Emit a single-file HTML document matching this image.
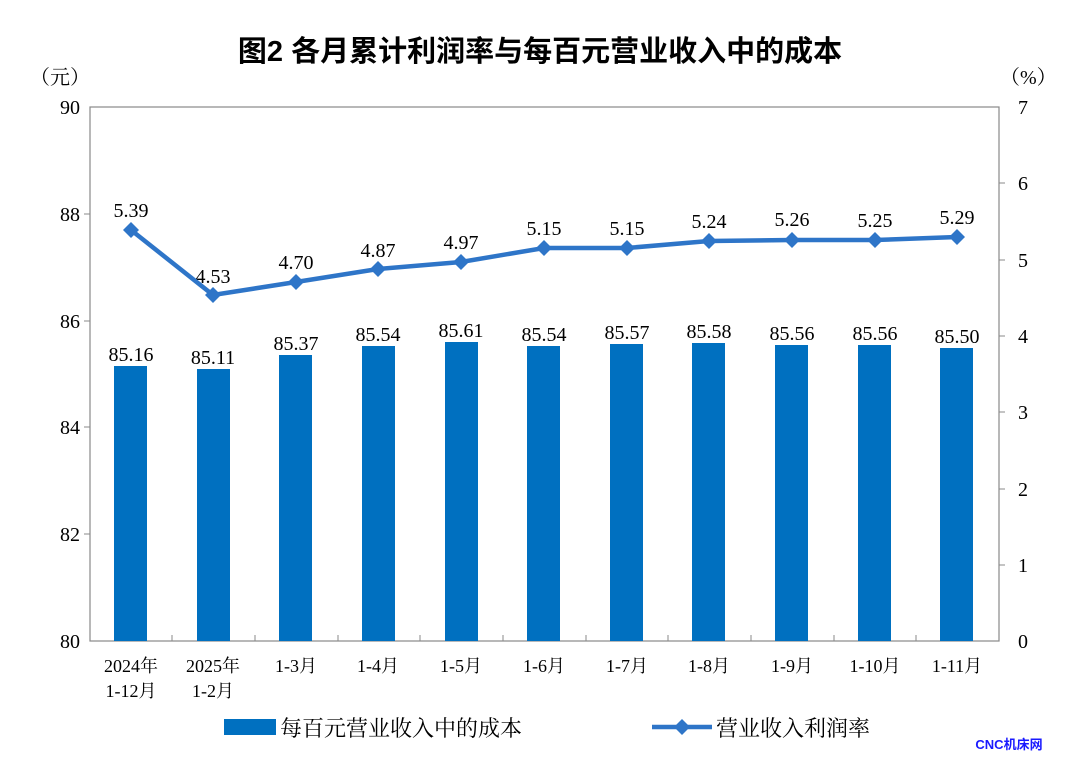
<!DOCTYPE html><html><head><meta charset="utf-8"><style>body{margin:0;background:#fff}svg{display:block}</style></head><body>
<svg width="1080" height="774" xmlns="http://www.w3.org/2000/svg" font-family="'Liberation Serif','Noto Serif CJK SC',serif">
<text x="540" y="61" text-anchor="middle" font-size="29" font-weight="bold" font-family="'Liberation Sans','Noto Sans CJK SC',sans-serif" fill="#000">图2  各月累计利润率与每百元营业收入中的成本</text>
<text x="30" y="84" font-size="20">（元）</text>
<text x="1000" y="84" font-size="20">（%）</text>
<rect x="90" y="107" width="909" height="534" fill="none" stroke="#888" stroke-width="1.2"/>
<g font-size="20" text-anchor="end">
<text x="80" y="114">90</text><text x="80" y="221">88</text><text x="80" y="328">86</text><text x="80" y="434">84</text><text x="80" y="541">82</text><text x="80" y="648">80</text>
</g>
<g stroke="#888"><line x1="84" y1="214" x2="90" y2="214"/><line x1="84" y1="321" x2="90" y2="321"/><line x1="84" y1="427" x2="90" y2="427"/><line x1="84" y1="534" x2="90" y2="534"/>
<line x1="999" y1="183" x2="1005" y2="183"/><line x1="999" y1="260" x2="1005" y2="260"/><line x1="999" y1="336" x2="1005" y2="336"/><line x1="999" y1="412" x2="1005" y2="412"/><line x1="999" y1="489" x2="1005" y2="489"/><line x1="999" y1="565" x2="1005" y2="565"/></g>
<g font-size="20">
<text x="1018" y="114">7</text><text x="1018" y="190">6</text><text x="1018" y="267">5</text><text x="1018" y="343">4</text><text x="1018" y="419">3</text><text x="1018" y="496">2</text><text x="1018" y="572">1</text><text x="1018" y="648">0</text>
</g>
<g fill="#0070C0">
<rect x="114" y="366" width="33" height="275"/><rect x="197" y="369" width="33" height="272"/><rect x="279" y="355" width="33" height="286"/><rect x="362" y="346" width="33" height="295"/><rect x="445" y="342" width="33" height="299"/><rect x="527" y="346" width="33" height="295"/><rect x="610" y="344" width="33" height="297"/><rect x="692" y="343" width="33" height="298"/><rect x="775" y="345" width="33" height="296"/><rect x="858" y="345" width="33" height="296"/><rect x="940" y="348" width="33" height="293"/>
</g>
<g stroke="#888"><line x1="172" y1="635" x2="172" y2="641"/><line x1="255" y1="635" x2="255" y2="641"/><line x1="338" y1="635" x2="338" y2="641"/><line x1="420" y1="635" x2="420" y2="641"/><line x1="503" y1="635" x2="503" y2="641"/><line x1="586" y1="635" x2="586" y2="641"/><line x1="668" y1="635" x2="668" y2="641"/><line x1="751" y1="635" x2="751" y2="641"/><line x1="834" y1="635" x2="834" y2="641"/><line x1="916" y1="635" x2="916" y2="641"/></g>
<g font-size="20" text-anchor="middle">
<text x="131" y="361">85.16</text><text x="213" y="364">85.11</text><text x="296" y="350">85.37</text><text x="378" y="341">85.54</text><text x="461" y="337">85.61</text><text x="544" y="341">85.54</text><text x="627" y="339">85.57</text><text x="709" y="338">85.58</text><text x="792" y="340">85.56</text><text x="875" y="340">85.56</text><text x="957" y="343">85.50</text>
<text x="131" y="217">5.39</text><text x="213" y="283">4.53</text><text x="296" y="269">4.70</text><text x="378" y="257">4.87</text><text x="461" y="249">4.97</text><text x="544" y="235">5.15</text><text x="627" y="235">5.15</text><text x="709" y="228">5.24</text><text x="792" y="226">5.26</text><text x="875" y="227">5.25</text><text x="957" y="224">5.29</text>
</g>
<polyline fill="none" stroke="#2E75C8" stroke-width="4.5" points="131,230 213,295 296,282 378,269 461,262 544,248 627,248 709,241 792,240 875,240 957,237"/>
<g fill="#2E75C8">
<path d="M131,222l8,8-8,8-8-8z"/><path d="M213,287l8,8-8,8-8-8z"/><path d="M296,274l8,8-8,8-8-8z"/><path d="M378,261l8,8-8,8-8-8z"/><path d="M461,254l8,8-8,8-8-8z"/><path d="M544,240l8,8-8,8-8-8z"/><path d="M627,240l8,8-8,8-8-8z"/><path d="M709,233l8,8-8,8-8-8z"/><path d="M792,232l8,8-8,8-8-8z"/><path d="M875,232l8,8-8,8-8-8z"/><path d="M957,229l8,8-8,8-8-8z"/>
</g>
<g font-size="18" text-anchor="middle">
<text x="131" y="672">2024年</text><text x="131" y="697">1-12月</text><text x="213" y="672">2025年</text><text x="213" y="697">1-2月</text>
<text x="296" y="672">1-3月</text><text x="378" y="672">1-4月</text><text x="461" y="672">1-5月</text><text x="544" y="672">1-6月</text><text x="627" y="672">1-7月</text><text x="709" y="672">1-8月</text><text x="792" y="672">1-9月</text><text x="875" y="672">1-10月</text><text x="957" y="672">1-11月</text>
</g>
<rect x="224" y="719" width="52" height="16" fill="#0070C0"/>
<text x="280" y="736" font-size="22">每百元营业收入中的成本</text>
<line x1="652" y1="727" x2="712" y2="727" stroke="#2E75C8" stroke-width="4.5"/>
<path d="M682,719l8,8-8,8-8-8z" fill="#2E75C8"/>
<text x="716" y="736" font-size="22">营业收入利润率</text>
<text x="1009" y="749" text-anchor="middle" font-size="13" font-weight="bold" fill="#1a1aff" font-family="'Liberation Sans','Noto Sans CJK SC',sans-serif">CNC机床网</text>
</svg></body></html>
